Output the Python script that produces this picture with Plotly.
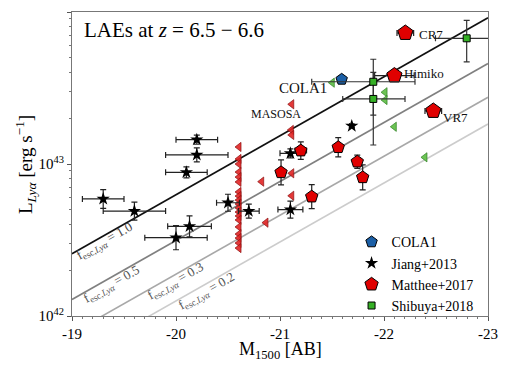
import numpy as np
import plotly.graph_objects as go

# Jiang+2013 (M1500, log L_Lya, errors)
jiang_M = [-20.20, -20.20, -20.10, -19.30, -19.60, -20.13, -20.00, -20.50, -20.70, -21.10, -21.10, -21.69]
jiang_logL = [43.16, 43.06, 42.945, 42.77, 42.69, 42.59, 42.515, 42.745, 42.69, 42.70, 43.07, 43.25]
jiang_Merr = [0.20, 0.30, 0.20, 0.20, 0.30, 0.21, 0.30, 0.11, 0.10, 0.12, 0.10, 0.02]
jiang_logLerr = [0.03, 0.046, 0.036, 0.062, 0.059, 0.069, 0.079, 0.056, 0.046, 0.056, 0.03, 0.01]

# Matthee+2017
matthee_M = [-22.205, -22.10, -22.474, -21.20, -21.56, -21.743, -21.795, -21.01, -21.305]
matthee_logL = [43.862, 43.582, 43.349, 43.088, 43.11, 43.015, 42.912, 42.945, 42.785]
matthee_Merr = [0.08, 0.19, 0.08, 0.055, 0.0, 0.0, 0.0, 0.0, 0.0]
matthee_logLerr = [0.01, 0.01, 0.01, 0.057, 0.063, 0.044, 0.082, 0.082, 0.079]
matthee_size = [16, 16, 16, 13, 13, 13, 13, 13, 13]

# Shibuya+2018
shibuya_M = [-22.795, -21.897, -21.897]
shibuya_logL = [43.827, 43.541, 43.428]
shibuya_Merr_plus = [0.3, 0.592, 0.294]
shibuya_Merr_minus = [0.3, 0.401, 0.305]
shibuya_logL_up = [0.118, 0.148, 0.175]
shibuya_logL_down = [0.155, 0.219, 0.303]

# COLA1
cola_M = [-21.593]
cola_logL = [43.557]

# limits (triangles)
red_lim_M = [-20.606] * 19 + [-20.824, -20.865, -21.113, -21.109, -21.113, -21.113, -21.113]
red_lim_logL = [43.112, 43.033, 43.0, 42.947, 42.914, 42.882, 42.816, 42.789, 42.763, 42.737,
                42.711, 42.684, 42.658, 42.632, 42.586, 42.539, 42.513, 42.480, 42.447,
                42.884, 42.614, 43.393, 43.224, 43.191, 42.939, 42.791]
green_lim_M = [-21.503, -22.01, -22.01, -22.099, -22.394]
green_lim_logL = [43.535, 43.472, 43.421, 43.245, 43.044]

# escape fraction lines
fesc_values = [1.0, 0.5, 0.3, 0.2]
fesc_colors = ['#111111', '#808080', '#a8a8a8', '#cccccc']
line_logL0 = 42.41   # log L at M=-19 for fesc=1
line_slope = 0.388   # dex per mag

SERIF = 'Liberation Serif, DejaVu Serif, serif'


def to_lin(logv):
    return [10.0 ** v for v in logv]


def err_up(logv, e):
    return [10.0 ** (v + d) - 10.0 ** v for v, d in zip(logv, e)]


def err_down(logv, e):
    return [10.0 ** v - 10.0 ** (v - d) for v, d in zip(logv, e)]


fig = go.Figure()

M_line = np.linspace(-19, -23, 50)
for f, c in zip(fesc_values, fesc_colors):
    fig.add_trace(go.Scatter(
        x=M_line, y=10.0 ** (line_logL0 + np.log10(f) - line_slope * (M_line + 19)),
        mode='lines', line=dict(color=c, width=1.6), showlegend=False, hoverinfo='skip'))

fig.add_trace(go.Scatter(
    x=red_lim_M, y=to_lin(red_lim_logL), mode='markers', showlegend=False,
    marker=dict(symbol='triangle-left', size=8, color='rgba(225,35,35,0.9)',
                line=dict(color='#8a1010', width=0.7))))
fig.add_trace(go.Scatter(
    x=green_lim_M, y=to_lin(green_lim_logL), mode='markers', showlegend=False,
    marker=dict(symbol='triangle-left', size=8, color='#6cc354',
                line=dict(color='#2f7f25', width=0.7))))

fig.add_trace(go.Scatter(
    x=cola_M, y=to_lin(cola_logL), mode='markers', name='COLA1',
    marker=dict(symbol='pentagon', size=12, color='#1b5fa6', line=dict(color='black', width=1))))

fig.add_trace(go.Scatter(
    x=jiang_M, y=to_lin(jiang_logL), mode='markers', name='Jiang+2013',
    marker=dict(symbol='star', size=10, color='black'),
    error_x=dict(type='data', array=jiang_Merr, color='#222', thickness=1.2, width=3),
    error_y=dict(type='data', array=err_up(jiang_logL, jiang_logLerr),
                 arrayminus=err_down(jiang_logL, jiang_logLerr), color='#222', thickness=1.2, width=3)))

fig.add_trace(go.Scatter(
    x=matthee_M, y=to_lin(matthee_logL), mode='markers', name='Matthee+2017',
    marker=dict(symbol='pentagon', size=matthee_size, color='#e00000', opacity=1,
                line=dict(color='black', width=1)),
    error_x=dict(type='data', array=matthee_Merr, color='#222', thickness=1.2, width=3),
    error_y=dict(type='data', array=err_up(matthee_logL, matthee_logLerr),
                 arrayminus=err_down(matthee_logL, matthee_logLerr), color='#222', thickness=1.2, width=3)))

fig.add_trace(go.Scatter(
    x=shibuya_M, y=to_lin(shibuya_logL), mode='markers', name='Shibuya+2018',
    marker=dict(symbol='square', size=7, color='#35b025', line=dict(color='black', width=1)),
    error_x=dict(type='data', array=shibuya_Merr_plus, arrayminus=shibuya_Merr_minus,
                 color='#333', thickness=1.2, width=3),
    error_y=dict(type='data', array=err_up(shibuya_logL, shibuya_logL_up),
                 arrayminus=err_down(shibuya_logL, shibuya_logL_down), color='#333', thickness=1.2, width=3)))

annotations = [
    dict(xref='paper', yref='paper', x=0.024, y=0.94, xanchor='left', yanchor='middle',
         text='LAEs at <i>z</i> = 6.5 − 6.6', showarrow=False,
         font=dict(family=SERIF, size=21, color='black')),
    dict(xref='paper', yref='paper', x=0.5, y=-0.113, xanchor='center', yanchor='middle',
         text='M<sub>1500</sub> [AB]', showarrow=False,
         font=dict(family=SERIF, size=18, color='black')),
    dict(xref='paper', yref='paper', x=-0.113, y=0.5, xanchor='center', yanchor='middle',
         text='L<sub><i>Lyα</i></sub> [erg s<sup>−1</sup>]', showarrow=False, textangle=-90,
         font=dict(family=SERIF, size=19, color='black')),
]

# fesc line labels
label_pos = [(-19.317, 42.487), (-19.385, 42.204), (-20.0, 42.224), (-20.298, 42.158)]
label_cols = ['#444', '#555', '#555', '#555']
for f, (lx, ly), c in zip(fesc_values, label_pos, label_cols):
    annotations.append(dict(x=lx, y=ly, xref='x', yref='y', showarrow=False, textangle=-29.5,
                            text='f<sub>esc,<i>Lyα</i></sub> = %.1f' % f,
                            font=dict(family=SERIF, size=13, color=c)))

# object names
names = [('CR7', -22.317, 43.852, 'left', 13), ('Himiko', -22.176, 43.597, 'left', 13),
         ('VR7', -22.548, 43.307, 'left', 13), ('COLA1', -21.474, 43.498, 'right', 15),
         ('MASOSA', -20.957, 43.327, 'center', 12)]
for t, nx, ny, anch, sz in names:
    annotations.append(dict(x=nx, y=ny, xref='x', yref='y', showarrow=False, text=t,
                            xanchor=anch, yanchor='middle',
                            font=dict(family=SERIF, size=sz, color='#111')))

xt = [-19, -20, -21, -22, -23]
yt = [42, 43, 44]
ymin = [float(d) * 10.0 ** p for p in (42, 43) for d in range(2, 10)]

# page body has an 8px margin, so the figure is shrunk and shifted to compensate
fig.update_layout(
    width=491, height=354,
    margin=dict(l=64, r=11, t=4, b=46, autoexpand=False),
    paper_bgcolor='white', plot_bgcolor='white',
    font=dict(family=SERIF, size=15, color='black'),
    annotations=annotations,
    legend=dict(x=0.672, y=0.295, xanchor='left', yanchor='top', bgcolor='rgba(0,0,0,0)',
                font=dict(family=SERIF, size=14), tracegroupgap=0, itemwidth=30),
    xaxis=dict(range=[-19, -23], showgrid=False, zeroline=False, showline=True, mirror=True,
               automargin=False,
               linecolor='#777', linewidth=1.2, ticks='outside', ticklen=4, tickcolor='#555',
               tickvals=xt, ticktext=['%d' % v for v in xt],
               minor=dict(dtick=0.1, ticks='outside', ticklen=2, tickcolor='#777')),
    yaxis=dict(type='log', range=[42, 44], showgrid=False, zeroline=False, showline=True, mirror=True,
               automargin=False,
               linecolor='#777', linewidth=1.2, ticks='outside', ticklen=4, tickcolor='#555',
               tickvals=[10.0 ** v for v in yt], ticktext=['10<sup>%d</sup>' % v for v in yt],
               minor=dict(tickvals=ymin, ticks='outside', ticklen=2, tickcolor='#777')),
)

fig.write_html('out.html')
